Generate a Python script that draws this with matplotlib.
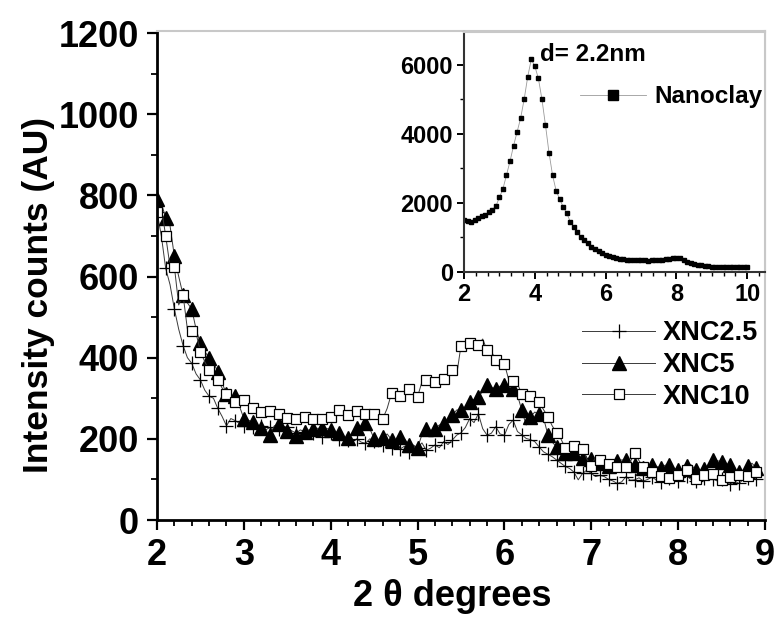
import numpy as np
import matplotlib
matplotlib.use('Agg')
import matplotlib.pyplot as plt
from matplotlib.ticker import MultipleLocator, AutoMinorLocator

# 2-theta grid of the composite scans (deg)
two_theta = np.round(np.arange(2.0, 8.901, 0.05), 2)

# XNC2.5 intensity (AU)
xnc25 = [760, 700, 620, 580, 520, 470, 430, 400, 386, 360,
         345, 320, 305, 300, 275, 255, 232, 250, 245, 238,
         232, 236, 228, 226, 232, 222, 228, 218, 225, 232,
         228, 220, 214, 222, 218, 210, 215, 208, 205, 212,
         215, 208, 200, 205, 196, 193, 200, 192, 189, 200,
         195, 180, 186, 200, 178, 190, 175, 182, 168, 185,
         178, 190, 172, 177, 185, 178, 193, 186, 197, 209,
         215, 228, 250, 240, 262, 225, 209, 214, 230, 212,
         209, 235, 246, 218, 210, 201, 198, 193, 180, 168,
         162, 156, 148, 140, 132, 127, 118, 99, 115, 123,
         115, 107, 110, 107, 100, 96, 90, 94, 107, 98,
         99, 104, 96, 100, 106, 98, 94, 100, 104, 98,
         96, 102, 108, 100, 95, 99, 104, 110, 102, 96,
         100, 94, 88, 96, 90, 100, 104, 98, 102]

# XNC5 intensity (AU)
xnc5 = [790, 780, 745, 725, 650, 600, 555, 535, 520, 470,
        435, 415, 400, 388, 365, 338, 310, 291, 305, 280,
        250, 246, 242, 235, 226, 215, 210, 232, 236, 226,
        220, 205, 208, 210, 218, 222, 224, 226, 226, 226,
        222, 218, 214, 205, 201, 215, 226, 232, 238, 225,
        200, 193, 205, 212, 198, 197, 205, 200, 185, 182,
        178, 210, 224, 220, 225, 234, 238, 244, 258, 271,
        272, 276, 290, 297, 302, 318, 333, 326, 324, 330,
        333, 326, 322, 308, 270, 234, 255, 266, 260, 252,
        210, 192, 180, 172, 165, 164, 164, 156, 152, 152,
        150, 145, 140, 118, 132, 140, 146, 148, 148, 140,
        135, 130, 128, 133, 136, 132, 128, 135, 136, 128,
        122, 126, 132, 136, 124, 118, 126, 135, 148, 146,
        144, 138, 136, 124, 118, 122, 132, 140, 128]

# XNC10 intensity (AU)
xnc10 = [760, 770, 700, 625, 624, 530, 555, 470, 465, 460,
         415, 390, 370, 360, 345, 325, 310, 300, 290, 292,
         296, 283, 275, 270, 265, 262, 268, 265, 262, 258,
         252, 262, 250, 246, 255, 256, 250, 244, 250, 248,
         255, 262, 272, 265, 258, 260, 268, 272, 262, 265,
         260, 252, 250, 275, 312, 300, 305, 318, 322, 312,
         304, 340, 346, 342, 340, 352, 348, 353, 370, 357,
         430, 415, 435, 425, 432, 446, 418, 415, 395, 374,
         385, 345, 342, 336, 310, 308, 305, 300, 290, 272,
         255, 232, 215, 200, 178, 188, 182, 178, 176, 150,
         132, 156, 148, 140, 138, 133, 131, 128, 131, 144,
         164, 146, 131, 125, 119, 112, 108, 106, 104, 103,
         112, 119, 122, 118, 100, 90, 110, 123, 114, 107,
         98, 90, 105, 119, 112, 107, 108, 111, 118]

# pristine nanoclay scan for the inset
clay_theta = np.round(np.arange(2.0, 10.001, 0.1), 1)
clay = [1500, 1480, 1450, 1500, 1550, 1600, 1650, 1720, 1790, 1900,
        2150, 2400, 2800, 3200, 3650, 4050, 4450, 5000, 5650, 6150,
        5950, 5600, 5000, 4250, 3450, 2800, 2350, 2100, 1880, 1700,
        1450, 1300, 1150, 1000, 920, 820, 720, 650, 600, 550,
        490, 450, 420, 390, 370, 360, 350, 345, 340, 335,
        330, 325, 320, 325, 330, 340, 350, 370, 380, 390,
        410, 390, 340, 290, 250, 220, 200, 185, 170, 160,
        150, 145, 140, 140, 135, 135, 130, 130, 128, 128, 125]

font = ['Liberation Sans', 'DejaVu Sans']

fig = plt.figure(figsize=(7.76, 6.18), dpi=100)
ax = fig.add_axes([157 / 776, 1 - 520 / 618, 608 / 776, 489 / 618])

line_col = '#3a3a3a'
ax.plot(two_theta, xnc25, color=line_col, lw=0.7, marker='+', ms=10, mew=0.9,
        mec='black', markevery=2, label='XNC2.5')
ax.plot(two_theta, xnc5, color=line_col, lw=0.7, marker='^', ms=9.5, mfc='black',
        mec='black', markevery=2, label='XNC5')
ax.plot(two_theta, xnc10, color=line_col, lw=0.7, marker='s', ms=7.5, mfc='white',
        mec='black', mew=0.9, markevery=2, label='XNC10')

ax.set_xlim(2, 9)
ax.set_ylim(0, 1205)
ax.xaxis.set_major_locator(MultipleLocator(1))
ax.xaxis.set_minor_locator(MultipleLocator(0.2))
ax.yaxis.set_major_locator(MultipleLocator(200))
ax.yaxis.set_minor_locator(MultipleLocator(100))
ax.tick_params(which='major', direction='out', length=7, width=1.6, pad=6)
ax.tick_params(which='minor', direction='out', length=4, width=1.3)
for lab in ax.get_xticklabels() + ax.get_yticklabels():
    lab.set_family(font)
    lab.set_fontweight('bold')
    lab.set_fontsize(26)
for s in ['left', 'bottom']:
    ax.spines[s].set_linewidth(2)
for s in ['top', 'right']:
    ax.spines[s].set_color('#c8c8c8')
    ax.spines[s].set_linewidth(1.5)

ax.set_ylabel('Intensity counts (AU)', family=font, fontweight='bold', fontsize=25.5)
ax.yaxis.set_label_coords(-0.168, 0.46)
ax.set_xlabel('2 θ degrees', family=font, fontweight='bold', fontsize=26)
ax.xaxis.set_label_coords(0.485, -0.12)

ax.legend(loc='center left', bbox_to_anchor=(582 / 776, 1 - 365 / 618),
          bbox_transform=fig.transFigure, frameon=False, borderpad=0,
          borderaxespad=0, handlelength=2.7, handletextpad=0.3,
          labelspacing=0.22, prop={'family': font, 'weight': 'bold', 'size': 19.5})

# inset: pristine nanoclay
ins = fig.add_axes([464 / 776, 1 - 271.7 / 618, 301 / 776, 240 / 618])
ins.plot(clay_theta, clay, color='#9a9a9a', lw=0.6, marker='s', ms=2.6,
         mfc='black', mec='black', label='Nanoclay')
ins.set_xlim(2, 10.5)
ins.set_ylim(0, 6950)
ins.xaxis.set_major_locator(MultipleLocator(2))
ins.xaxis.set_minor_locator(AutoMinorLocator(6))
ins.yaxis.set_major_locator(MultipleLocator(2000))
ins.yaxis.set_minor_locator(MultipleLocator(1000))
ins.tick_params(which='major', direction='out', length=5, width=1.4, pad=3)
ins.tick_params(which='minor', direction='out', length=3, width=1)
for lab in ins.get_xticklabels() + ins.get_yticklabels():
    lab.set_family(font)
    lab.set_fontweight('bold')
    lab.set_fontsize(17)
for s in ['left', 'bottom']:
    ins.spines[s].set_linewidth(1.5)
    ins.spines[s].set_color('#333333')
for s in ['top', 'right']:
    ins.spines[s].set_color('#c8c8c8')
    ins.spines[s].set_linewidth(1.5)
ins.text(4.15, 6300, 'd= 2.2nm', family=font, fontweight='bold', fontsize=17.5,
         va='center', ha='left')
ins.legend(loc='center left', bbox_to_anchor=(580 / 776, 1 - 97 / 618),
           bbox_transform=fig.transFigure, frameon=False, borderpad=0,
           borderaxespad=0, handlelength=2.7, handletextpad=0.35, markerscale=3,
           prop={'family': font, 'weight': 'bold', 'size': 17.5})

fig.savefig('out.png', dpi=100)
